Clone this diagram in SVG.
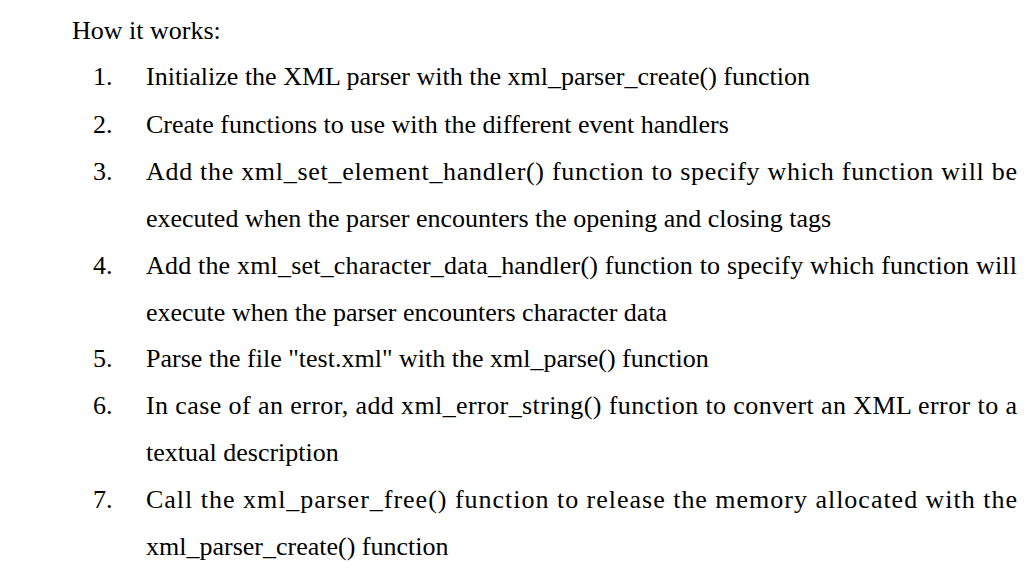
<svg xmlns="http://www.w3.org/2000/svg" width="1024" height="576" viewBox="0 0 1024 576">
<style>text{font-family:"Liberation Serif","Times New Roman",serif;font-size:26px;fill:#000}</style>
<rect width="1024" height="576" fill="#fff"/>
<g id="list">
<text x="72" y="39">How it works:</text>
<text x="93" y="85">1.</text><text x="146" y="85">Initialize the XML parser with the xml_parser_create() function</text>
<text x="93" y="133">2.</text><text x="146" y="133">Create functions to use with the different event handlers</text>
<text x="93" y="180">3.</text><text x="146" y="180" textLength="871" lengthAdjust="spacing">Add the xml_set_element_handler() function to specify which function will be</text>
<text x="146" y="227">executed when the parser encounters the opening and closing tags</text>
<text x="93" y="274">4.</text><text x="146" y="274" textLength="871" lengthAdjust="spacing">Add the xml_set_character_data_handler() function to specify which function will</text>
<text x="146" y="321">execute when the parser encounters character data</text>
<text x="93" y="367">5.</text><text x="146" y="367">Parse the file "test.xml" with the xml_parse() function</text>
<text x="93" y="414">6.</text><text x="146" y="414" textLength="871" lengthAdjust="spacing">In case of an error, add xml_error_string() function to convert an XML error to a</text>
<text x="146" y="461">textual description</text>
<text x="93" y="508">7.</text><text x="146" y="508" textLength="871" lengthAdjust="spacing">Call the xml_parser_free() function to release the memory allocated with the</text>
<text x="146" y="555">xml_parser_create() function</text>
</g>
</svg>
